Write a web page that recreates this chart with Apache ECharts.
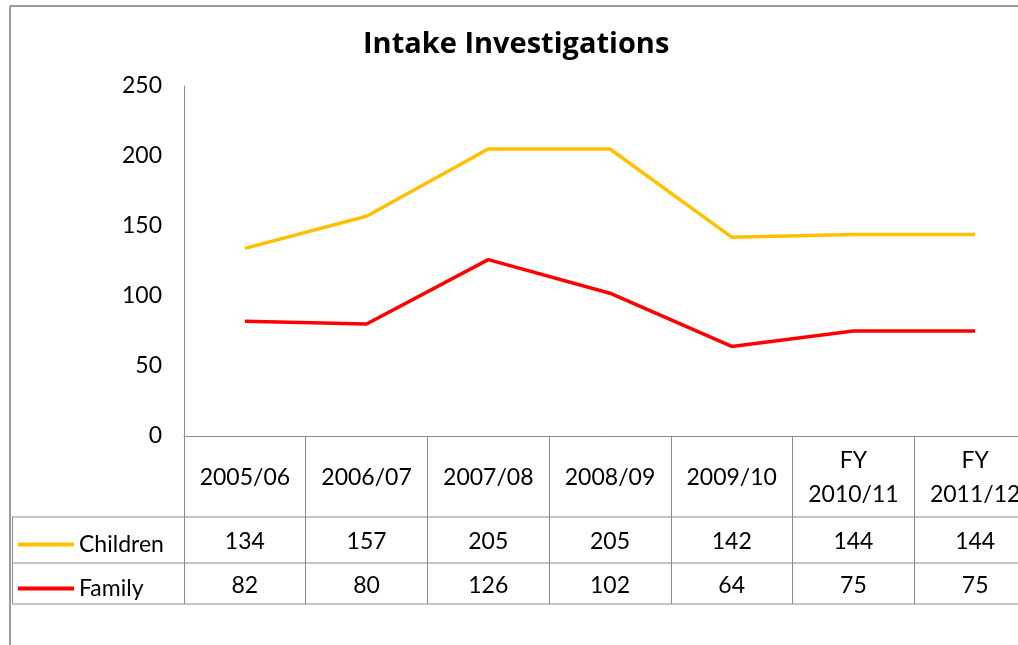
<!DOCTYPE html>
<html>
<head>
<meta charset="utf-8">
<script src="https://cdn.jsdelivr.net/npm/echarts@6/dist/echarts.min.js"></script>
<style>
  html, body { margin: 0; padding: 0; background: #fff; }
  #chart { width: 1018px; height: 645px; }
</style>
</head>
<body>
<div id="chart"></div>
<script>
const categories = ['2005/06', '2006/07', '2007/08', '2008/09', '2009/10', 'FY\n2010/11', 'FY\n2011/12'];
const children = [134, 157, 205, 205, 142, 144, 144];
const family = [82, 80, 126, 102, 64, 75, 75];
const seriesNames = ['Children', 'Family'];
const yMin = 0, yMax = 250, yStep = 50;

const FONT = 'Lato, "Open Sans", sans-serif';
const GRID_LEFT = 184, GRID_TOP = 86, GRID_H = 350, GRID_W = 852;
const AXIS_Y = GRID_TOP + GRID_H; // 436
const ROW1 = 517, ROW2 = 563, ROW3 = 604;
const GRAY = '#8c8c8c';

const chart = echarts.init(document.getElementById('chart'));

function valueAxis(values, margin) {
  return {
    type: 'category',
    data: categories,
    gridIndex: 0,
    position: 'bottom',
    offset: 0,
    axisLine: { show: false },
    axisTick: { show: false },
    axisLabel: {
      interval: 0,
      margin: margin,
      verticalAlign: 'middle',
      color: '#000',
      fontFamily: FONT,
      fontSize: 23,
      formatter: (v, i) => String(values[i])
    }
  };
}

const option = {
  backgroundColor: '#fff',
  animation: false,
  title: {
    text: 'Intake Investigations',
    left: 358,
    top: 25,
    textStyle: { fontFamily: '"Open Sans", Lato, sans-serif', fontWeight: 'bold', fontSize: 29, color: '#000' }
  },
  legend: {
    data: seriesNames,
    orient: 'vertical',
    left: 18,
    top: 533,
    padding: 0,
    icon: 'rect',
    itemWidth: 56,
    itemHeight: 4,
    itemGap: 21,
    textStyle: { fontFamily: FONT, fontSize: 23, color: '#000' }
  },
  grid: { left: GRID_LEFT, top: GRID_TOP, width: GRID_W, height: GRID_H, outerBoundsMode: 'none', containLabel: false },
  xAxis: [
    {
      type: 'category',
      data: categories,
      boundaryGap: true,
      axisLine: { show: true, lineStyle: { color: GRAY, width: 1 } },
      axisTick: { show: true, interval: 0, length: ROW3 - AXIS_Y, lineStyle: { color: GRAY, width: 1 } },
      axisLabel: {
        interval: 0,
        margin: 42,
        verticalAlign: 'middle',
        lineHeight: 34,
        color: '#000',
        fontFamily: FONT,
        fontSize: 23
      },
      splitLine: { show: false }
    },
    valueAxis(children, ROW1 + 25 - AXIS_Y),
    valueAxis(family, ROW2 + 23 - AXIS_Y)
  ],
  yAxis: {
    type: 'value',
    min: yMin,
    max: yMax,
    interval: yStep,
    axisLine: { show: true, lineStyle: { color: GRAY, width: 1 } },
    axisTick: { show: false },
    splitLine: { show: false },
    axisLabel: { margin: 22, color: '#000', fontFamily: FONT, fontSize: 23 }
  },
  series: [
    {
      name: seriesNames[0],
      type: 'line',
      data: children,
      symbol: 'none',
      lineStyle: { color: '#FFC000', width: 3.5 },
      itemStyle: { color: '#FFC000' }
    },
    {
      name: seriesNames[1],
      type: 'line',
      data: family,
      symbol: 'none',
      lineStyle: { color: '#FF0000', width: 3.5 },
      itemStyle: { color: '#FF0000' }
    }
  ],
  graphic: [
    // outer chart frame (cropped on right/bottom)
    { type: 'line', shape: { x1: 10, y1: 6, x2: 1018, y2: 6 }, style: { stroke: '#9a9a9a', lineWidth: 2 } },
    { type: 'line', shape: { x1: 10, y1: 6, x2: 10, y2: 645 }, style: { stroke: '#9a9a9a', lineWidth: 2 } },
    // data table rules
    { type: 'line', shape: { x1: 12, y1: ROW1, x2: 1018, y2: ROW1 }, style: { stroke: GRAY, lineWidth: 1 } },
    { type: 'line', shape: { x1: 12, y1: ROW2, x2: 1018, y2: ROW2 }, style: { stroke: GRAY, lineWidth: 1 } },
    { type: 'line', shape: { x1: 12, y1: ROW3, x2: 1018, y2: ROW3 }, style: { stroke: GRAY, lineWidth: 1 } },
    { type: 'line', shape: { x1: 12.5, y1: ROW1, x2: 12.5, y2: ROW3 }, style: { stroke: GRAY, lineWidth: 1 } }
  ]
};

chart.setOption(option);
</script>
</body>
</html>
